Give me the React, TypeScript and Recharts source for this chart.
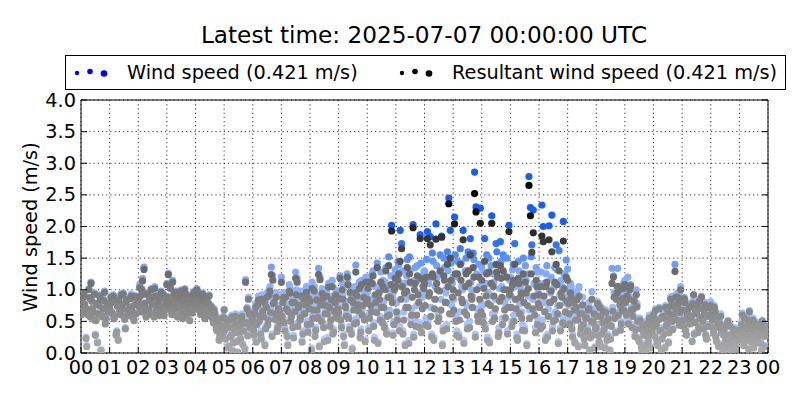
import React from 'react';
import { ScatterChart, Scatter, XAxis, YAxis, CartesianGrid } from 'recharts';

const titleText = 'Latest time: 2025-07-07 00:00:00 UTC';
const latestWindSpeed = 0.421;
const latestResultant = 0.421;
const hourTicks = [0,1,2,3,4,5,6,7,8,9,10,11,12,13,14,15,16,17,18,19,20,21,22,23,24];
const hourLabels = ['00','01','02','03','04','05','06','07','08','09','10','11','12','13','14','15','16','17','18','19','20','21','22','23','00'];
const speedTicks = [0, 0.5, 1, 1.5, 2, 2.5, 3, 3.5, 4];
const speedLabels = ['0.0','0.5','1.0','1.5','2.0','2.5','3.0','3.5','4.0'];
const samplesPerHour = 20;

// wind speed (m/s), one row per hour, samples on the 3-minute marks
const windSpeedByHour: number[][] = [
  [0.82,0.75,0.95,0.68,0.12,0.61,0.88,1.12,0.71,0.55,0.30,0.79,0.64,0.92,0.05,0.58,0.85,0.47,0.73,0.66],
  [0.72,0.90,0.63,0.55,0.81,0.35,0.22,0.68,0.94,0.77,0.58,0.40,0.85,0.62,0.71,0.93,0.66,0.52,0.79,0.88],
  [0.85,1.08,0.66,1.18,1.36,0.95,0.72,0.62,0.88,1.02,0.78,0.58,0.92,0.70,0.84,0.65,0.98,0.75,0.60,0.87],
  [1.10,1.26,0.82,0.68,1.15,0.95,0.78,0.60,0.88,0.72,1.00,0.55,0.84,0.66,0.93,0.76,0.52,0.87,0.70,0.98],
  [0.92,1.02,0.78,0.85,0.66,0.95,0.72,0.58,0.88,0.80,0.63,0.75,0.55,0.70,0.48,0.36,0.52,0.28,0.44,0.32],
  [0.69,0.25,0.45,0.12,0.55,0.30,0.05,0.40,0.62,0.20,0.48,0.35,0.58,0.15,0.50,1.16,0.72,0.88,0.42,0.65],
  [0.55,0.32,0.78,0.48,0.90,0.62,0.25,0.70,0.85,0.42,0.95,0.58,1.05,1.36,1.22,0.88,0.66,0.38,0.75,0.52],
  [1.20,0.85,0.52,0.95,0.30,0.72,1.02,0.62,0.45,0.88,1.28,1.18,0.78,0.58,0.98,0.35,0.68,0.82,0.50,0.92],
  [0.88,0.08,0.62,1.05,0.40,0.75,1.34,1.20,0.55,0.95,0.22,0.82,0.68,1.10,0.48,0.90,0.35,0.72,1.00,0.60],
  [0.70,1.22,0.45,0.92,0.15,0.80,1.25,0.60,1.05,0.35,0.88,0.52,1.39,0.98,0.72,0.28,1.15,0.82,0.58,1.20],
  [0.95,0.40,1.20,0.72,1.30,0.25,0.88,1.42,1.05,0.58,0.80,1.15,0.45,1.35,0.65,1.52,0.98,2.02,0.32,1.10],
  [1.25,0.60,1.40,1.94,1.73,0.35,1.10,0.85,1.48,0.20,1.30,0.70,2.03,1.15,0.50,1.38,0.95,1.87,0.40,1.20],
  [1.30,0.55,1.92,1.10,1.84,0.30,1.45,0.85,2.04,1.20,0.65,1.55,1.85,0.40,1.35,0.95,1.60,2.45,1.94,0.75],
  [1.20,2.15,0.60,1.45,0.30,1.65,1.05,1.94,0.80,1.50,0.45,1.30,1.81,1.00,1.58,2.86,2.31,0.70,1.40,2.29],
  [1.35,0.55,1.81,1.10,0.25,1.50,0.90,2.17,1.25,0.65,1.73,1.40,0.40,1.76,1.05,1.55,0.80,1.20,0.35,2.02],
  [1.20,0.50,1.40,1.73,0.85,0.25,1.30,1.05,0.65,1.50,0.40,1.15,0.90,2.79,2.30,1.71,2.26,0.70,1.35,0.55],
  [1.10,0.45,2.34,2.00,0.80,1.25,0.30,2.01,0.95,2.18,0.60,1.35,1.71,0.75,1.62,0.40,1.05,2.08,0.55,1.47],
  [1.33,0.75,1.10,0.45,0.95,0.20,0.85,0.60,1.05,0.35,0.70,0.50,0.15,0.62,0.40,0.80,0.28,0.97,0.55,0.10],
  [0.45,0.81,0.20,0.62,0.35,0.70,0.10,0.55,0.30,0.48,0.25,1.34,1.22,0.60,0.90,1.34,1.05,0.40,0.75,1.10],
  [1.15,0.65,1.20,0.90,1.08,0.45,0.75,0.30,1.00,0.55,0.20,0.42,0.05,0.35,0.15,0.50,0.28,0.60,0.10,0.38],
  [0.63,0.30,0.50,0.15,0.72,0.40,0.25,0.58,0.10,0.45,0.68,0.35,0.89,0.55,0.80,1.40,0.75,0.95,0.48,1.05],
  [0.70,0.45,0.84,0.30,0.62,0.55,0.78,0.20,0.92,0.50,0.66,0.35,0.85,0.58,0.72,0.40,0.80,0.25,0.60,0.75],
  [0.81,0.55,0.35,0.68,0.20,0.50,0.42,0.62,0.15,0.30,0.45,0.10,0.52,0.25,0.05,0.32,0.18,0.40,0.08,0.22],
  [0.39,0.25,0.63,0.15,0.45,0.30,0.55,0.67,0.20,0.40,0.10,0.50,0.35,0.28,0.45,0.18,0.52,0.32,0.12,0.42],
];

// wind speed (m/s), samples half-way between the 3-minute marks
const windSpeedMidByHour: number[][] = [
  [0.62,0.90,0.78,0.25,0.70,1.02,0.58,0.84,0.66,0.95,0.52,0.18,0.76,0.88,0.60,0.72,0.98,0.55,0.80,0.68],
  [0.80,0.65,0.92,0.58,0.30,0.75,0.86,0.62,0.70,0.95,0.54,0.82,0.68,0.60,0.88,0.74,0.57,0.91,0.63,0.78],
  [0.74,0.92,1.02,0.68,0.80,0.58,0.95,0.70,0.85,0.62,0.90,1.05,0.66,0.78,0.60,0.88,0.72,0.94,0.68,0.82],
  [0.90,0.75,1.04,0.62,0.85,0.70,0.98,0.58,0.80,0.92,0.66,0.76,1.02,0.60,0.88,0.72,0.82,0.64,0.94,0.78],
  [0.84,0.70,0.96,0.62,0.90,0.76,0.55,0.82,0.68,0.92,0.60,0.72,0.50,0.64,0.40,0.56,0.22,0.46,0.35,0.58],
  [0.38,0.55,0.10,0.42,0.28,0.60,0.18,0.50,0.35,0.02,0.45,0.25,0.62,0.38,0.08,0.52,0.30,0.66,0.48,0.58],
  [0.40,0.68,0.20,0.82,0.55,0.35,0.92,0.62,0.15,0.78,0.48,1.00,0.70,0.30,0.85,0.58,0.95,0.44,0.72,0.62],
  [0.65,0.95,0.40,0.78,0.15,1.08,0.55,0.88,0.28,0.72,1.00,0.48,0.82,0.62,0.20,0.92,0.70,1.05,0.38,0.76],
  [0.52,1.12,0.75,0.30,0.92,0.62,0.12,0.85,1.02,0.45,0.70,0.98,0.25,0.80,0.58,1.15,0.38,0.88,0.65,0.78],
  [0.95,0.58,1.10,0.30,0.82,0.65,1.18,0.42,0.92,0.08,0.75,1.05,0.55,0.85,1.12,0.38,0.68,0.98,0.22,0.88],
  [1.15,0.62,0.85,1.25,0.48,1.05,0.72,0.18,0.95,1.28,0.55,0.82,1.12,0.35,1.00,0.68,1.22,0.90,0.50,1.32],
  [0.80,1.45,0.42,1.05,1.30,0.65,0.15,1.22,0.92,1.52,0.55,1.10,0.30,1.35,0.75,1.15,0.48,1.42,0.88,1.28],
  [0.95,1.48,0.50,1.20,0.72,1.58,0.25,1.05,1.38,0.62,1.25,0.85,0.15,1.50,1.00,0.45,1.30,0.78,1.42,1.10],
  [0.85,1.55,0.35,1.20,0.65,1.42,1.00,0.20,1.30,0.75,1.60,0.50,1.12,0.90,1.48,0.30,1.25,0.62,1.05,0.80],
  [0.75,1.28,0.45,1.55,0.95,0.20,1.38,0.62,1.12,0.85,1.60,0.32,1.02,1.45,0.55,1.25,0.70,1.50,0.88,1.15],
  [0.90,1.32,0.60,1.05,0.30,1.45,0.78,1.18,0.45,0.98,1.38,0.15,1.25,0.68,1.52,0.85,1.10,0.40,1.28,0.95],
  [0.88,1.28,0.52,1.10,0.25,1.38,0.70,0.98,1.20,0.42,1.05,0.65,1.32,0.18,0.92,1.15,0.58,1.25,0.80,1.00],
  [0.92,0.55,1.05,0.30,0.80,0.62,0.98,0.12,0.72,0.45,0.88,0.25,0.65,0.38,0.78,0.05,0.58,0.32,0.70,0.42],
  [0.62,0.30,0.75,0.12,0.52,0.40,0.68,0.22,0.58,0.05,0.45,0.72,0.95,0.35,1.02,0.65,0.82,0.50,0.92,0.70],
  [0.85,0.95,0.50,1.05,0.72,0.62,0.88,0.40,0.78,0.25,0.55,0.12,0.45,0.30,0.02,0.38,0.20,0.48,0.32,0.55],
  [0.45,0.70,0.20,0.55,0.38,0.05,0.62,0.32,0.75,0.48,0.18,0.58,0.78,0.40,0.65,0.92,0.55,0.82,0.68,0.88],
  [0.55,0.88,0.38,0.65,0.72,0.48,0.60,0.82,0.32,0.68,0.78,0.42,0.58,0.90,0.52,0.65,0.30,0.74,0.45,0.62],
  [0.65,0.42,0.75,0.28,0.58,0.12,0.48,0.35,0.02,0.40,0.22,0.30,0.15,0.45,0.08,0.28,0.38,0.12,0.30,0.25],
  [0.28,0.48,0.35,0.58,0.22,0.40,0.08,0.46,0.30,0.55,0.25,0.38,0.18,0.48,0.32,0.05,0.40,0.28,0.45,0.35],
];

// resultant wind speed (m/s), on the 3-minute marks
const resultantByHour: number[][] = [
  [0.80,0.74,0.93,0.67,0.10,0.60,0.87,1.10,0.70,0.53,0.28,0.78,0.62,0.90,0.04,0.57,0.83,0.46,0.72,0.65],
  [0.71,0.88,0.62,0.54,0.80,0.33,0.20,0.66,0.91,0.76,0.57,0.38,0.84,0.60,0.70,0.90,0.65,0.51,0.77,0.86],
  [0.83,1.03,0.65,1.14,1.32,0.93,0.70,0.61,0.86,1.00,0.77,0.57,0.90,0.69,0.82,0.64,0.96,0.74,0.59,0.85],
  [1.08,1.24,0.80,0.67,1.12,0.93,0.77,0.59,0.86,0.71,0.98,0.54,0.82,0.65,0.91,0.75,0.51,0.85,0.69,0.96],
  [0.90,1.00,0.77,0.83,0.65,0.93,0.71,0.57,0.86,0.78,0.62,0.73,0.54,0.68,0.46,0.35,0.50,0.26,0.42,0.30],
  [0.68,0.22,0.43,0.10,0.52,0.28,0.03,0.38,0.58,0.18,0.46,0.33,0.55,0.13,0.47,1.12,0.70,0.85,0.40,0.62],
  [0.50,0.28,0.72,0.45,0.84,0.58,0.22,0.66,0.80,0.38,0.88,0.52,0.98,1.24,1.15,0.80,0.62,0.34,0.70,0.48],
  [1.12,0.80,0.48,0.88,0.26,0.65,0.95,0.57,0.40,0.80,1.18,1.12,0.72,0.52,0.90,0.30,0.62,0.76,0.45,0.86],
  [0.82,0.05,0.55,0.98,0.36,0.68,1.24,1.16,0.50,0.86,0.18,0.75,0.62,1.04,0.42,0.84,0.30,0.66,0.92,0.55],
  [0.64,1.18,0.40,0.85,0.12,0.72,1.20,0.55,0.96,0.30,0.80,0.46,1.28,0.90,0.66,0.24,1.08,0.75,0.52,1.12],
  [0.85,0.35,1.12,0.65,1.22,0.20,0.80,1.35,0.95,0.52,0.72,1.05,0.40,1.30,0.58,1.38,0.88,1.93,0.28,1.00],
  [1.05,0.52,1.25,1.45,1.65,0.30,0.95,0.72,1.35,0.15,1.12,0.60,1.98,1.00,0.42,1.22,0.80,1.81,0.32,1.05],
  [1.10,0.45,1.81,0.90,1.71,0.25,1.20,0.70,1.80,1.00,0.55,1.30,1.83,0.35,1.15,0.80,1.40,2.36,1.50,0.62],
  [1.00,2.04,0.50,1.25,0.25,1.40,0.85,1.79,0.65,1.25,0.38,1.10,1.55,0.85,1.35,2.52,2.23,0.58,1.20,2.05],
  [1.15,0.48,1.45,0.90,0.20,1.28,0.75,2.05,1.05,0.55,1.40,1.20,0.32,1.38,0.88,1.30,0.68,1.00,0.30,1.92],
  [1.00,0.42,1.15,1.40,0.70,0.20,1.10,0.88,0.55,1.25,0.35,0.95,0.75,2.65,2.17,1.59,1.90,0.60,1.15,0.45],
  [0.92,0.38,1.85,1.76,0.65,1.05,0.25,1.79,0.80,1.60,0.50,1.12,1.40,0.62,1.30,0.35,0.88,1.77,0.45,1.20],
  [1.15,0.62,0.95,0.38,0.80,0.16,0.72,0.52,0.90,0.30,0.62,0.45,0.12,0.55,0.35,0.70,0.24,0.85,0.48,0.08],
  [0.40,0.78,0.17,0.58,0.30,0.66,0.08,0.50,0.26,0.44,0.22,1.10,1.20,0.55,0.85,1.05,1.00,0.36,0.70,1.02],
  [1.08,0.60,1.05,0.85,1.06,0.40,0.70,0.26,0.92,0.50,0.18,0.38,0.04,0.32,0.12,0.46,0.25,0.55,0.08,0.35],
  [0.60,0.26,0.46,0.12,0.70,0.36,0.22,0.55,0.08,0.42,0.65,0.32,0.85,0.50,0.76,1.29,0.70,0.88,0.44,1.00],
  [0.68,0.42,0.80,0.28,0.60,0.52,0.74,0.18,0.92,0.48,0.62,0.32,0.82,0.55,0.70,0.38,0.76,0.22,0.58,0.72],
  [0.75,0.52,0.32,0.65,0.18,0.48,0.40,0.58,0.12,0.28,0.42,0.08,0.50,0.22,0.04,0.30,0.15,0.37,0.06,0.20],
  [0.36,0.22,0.60,0.12,0.42,0.28,0.52,0.65,0.18,0.38,0.08,0.47,0.32,0.25,0.42,0.15,0.50,0.30,0.10,0.40],
];

// resultant wind speed (m/s), half-way between the 3-minute marks
const resultantMidByHour: number[][] = [
  [0.61,0.88,0.77,0.23,0.69,1.00,0.57,0.82,0.65,0.93,0.51,0.16,0.75,0.86,0.59,0.70,0.96,0.54,0.78,0.67],
  [0.79,0.64,0.90,0.57,0.28,0.74,0.84,0.61,0.69,0.93,0.53,0.80,0.67,0.59,0.86,0.73,0.56,0.89,0.62,0.77],
  [0.73,0.90,1.00,0.67,0.78,0.57,0.93,0.69,0.83,0.61,0.88,1.02,0.65,0.76,0.59,0.86,0.71,0.92,0.67,0.80],
  [0.88,0.74,1.02,0.61,0.83,0.69,0.96,0.57,0.78,0.90,0.65,0.75,1.00,0.59,0.86,0.71,0.80,0.63,0.92,0.77],
  [0.82,0.69,0.94,0.61,0.88,0.74,0.54,0.80,0.67,0.90,0.59,0.70,0.48,0.62,0.38,0.54,0.20,0.44,0.33,0.56],
  [0.36,0.52,0.08,0.40,0.25,0.57,0.16,0.47,0.32,0.01,0.42,0.22,0.58,0.35,0.06,0.48,0.27,0.62,0.45,0.55],
  [0.36,0.62,0.17,0.76,0.50,0.30,0.85,0.57,0.12,0.72,0.44,0.92,0.64,0.26,0.78,0.53,0.88,0.40,0.66,0.57],
  [0.58,0.88,0.35,0.70,0.12,0.98,0.50,0.80,0.24,0.65,0.92,0.42,0.75,0.56,0.17,0.85,0.62,0.96,0.33,0.70],
  [0.46,1.02,0.68,0.26,0.84,0.56,0.10,0.76,0.94,0.40,0.62,0.90,0.20,0.72,0.52,1.05,0.33,0.80,0.58,0.70],
  [0.86,0.52,1.00,0.26,0.74,0.58,1.08,0.37,0.84,0.06,0.68,0.95,0.48,0.76,1.02,0.33,0.60,0.88,0.18,0.80],
  [1.02,0.55,0.75,1.10,0.42,0.92,0.64,0.15,0.85,1.12,0.48,0.72,1.00,0.30,0.88,0.60,1.08,0.80,0.45,1.18],
  [0.65,1.15,0.35,0.85,1.05,0.52,0.12,0.98,0.72,1.25,0.45,0.88,0.25,1.10,0.60,0.92,0.40,1.18,0.70,1.02],
  [0.75,1.20,0.42,0.95,0.58,1.25,0.20,0.85,1.10,0.50,0.98,0.68,0.12,1.22,0.80,0.38,1.05,0.62,1.15,0.88],
  [0.68,1.25,0.28,0.95,0.52,1.15,0.80,0.15,1.05,0.60,1.30,0.40,0.90,0.72,1.20,0.25,1.00,0.50,0.85,0.65],
  [0.60,1.02,0.38,1.25,0.78,0.16,1.10,0.50,0.90,0.70,1.28,0.26,0.82,1.18,0.45,1.00,0.56,1.20,0.72,0.92],
  [0.72,1.08,0.50,0.85,0.24,1.18,0.62,0.95,0.36,0.80,1.12,0.12,1.02,0.55,1.25,0.70,0.90,0.32,1.05,0.78],
  [0.72,1.05,0.42,0.90,0.20,1.12,0.58,0.80,0.98,0.35,0.85,0.52,1.08,0.15,0.75,0.95,0.48,1.02,0.65,0.82],
  [0.78,0.46,0.88,0.25,0.68,0.52,0.84,0.10,0.62,0.40,0.76,0.22,0.56,0.33,0.68,0.04,0.50,0.28,0.62,0.38],
  [0.58,0.27,0.72,0.10,0.48,0.37,0.64,0.20,0.54,0.04,0.42,0.66,0.88,0.32,0.95,0.60,0.76,0.46,0.86,0.66],
  [0.80,0.90,0.46,1.00,0.68,0.58,0.82,0.37,0.73,0.22,0.52,0.10,0.42,0.28,0.02,0.35,0.18,0.45,0.30,0.52],
  [0.42,0.67,0.18,0.52,0.35,0.04,0.58,0.30,0.72,0.45,0.16,0.55,0.74,0.37,0.62,0.88,0.52,0.78,0.64,0.85],
  [0.52,0.86,0.35,0.62,0.70,0.46,0.58,0.78,0.30,0.66,0.75,0.40,0.55,0.88,0.50,0.62,0.28,0.72,0.42,0.60],
  [0.62,0.40,0.72,0.25,0.55,0.10,0.46,0.32,0.02,0.38,0.20,0.28,0.13,0.42,0.06,0.26,0.35,0.10,0.28,0.22],
  [0.26,0.45,0.32,0.55,0.20,0.38,0.06,0.44,0.28,0.52,0.22,0.36,0.16,0.45,0.30,0.04,0.38,0.26,0.42,0.33],
];

type Pt = { t: number; v: number };
const toPoints = (onMarks: number[][], between: number[][]): Pt[] =>
  onMarks.flatMap((row, h) =>
    row.flatMap((v, i) => [
      { t: h + i / samplesPerHour, v },
      { t: h + (i + 0.5) / samplesPerHour, v: between[h][i] },
    ])
  );

const windData = toPoints(windSpeedByHour, windSpeedMidByHour);
const resultantData = toPoints(resultantByHour, resultantMidByHour);

const W = 800;
const H = 400;
const FONT = '"DejaVu Sans", sans-serif';
const BASE = 19.3;
const M = 4;
const TICK = 6;

const BLUE = [20, 95, 250];
const BLACK = [0, 0, 0];
const grayAlpha = (v: number) => Math.min(1, 0.33 + 0.2 * v + Math.max(0, v - 1.3) * 0.2);
const blueAlpha = (v: number) => Math.min(1, 0.28 + 0.2 * v + Math.max(0, v - 1.3) * 0.6);
const mix = (base: number[], a: number) =>
  `rgb(${base.map((c) => Math.round(255 + (c - 255) * a)).join(',')})`;

const makeShape = (base: number[], alphaFor: (v: number) => number) => (props: any) => {
  const { cx, cy, payload } = props;
  if (cx == null || cy == null) return <g />;
  return <circle cx={cx} cy={cy} r={3.6} fill={mix(base, alphaFor(payload.v))} />;
};

const BottomTick = (props: any) => {
  const { x, y, index } = props;
  return (
    <g>
      <line x1={x} x2={x} y1={y - M} y2={y - M - TICK} stroke="#000" />
      <text x={x} y={y + 17} textAnchor="middle" fontFamily={FONT} fontSize={BASE} fill="#000">
        {hourLabels[index]}
      </text>
    </g>
  );
};
const TopTick = (props: any) => {
  const { x, y } = props;
  return <line x1={x} x2={x} y1={y + M} y2={y + M + TICK} stroke="#000" />;
};
const LeftTick = (props: any) => {
  const { x, y, index } = props;
  return (
    <g>
      <line x1={x + M} x2={x + M + TICK} y1={y} y2={y} stroke="#000" />
      <text x={x - 1} y={y + 6.5} textAnchor="end" fontFamily={FONT} fontSize={BASE} fill="#000">
        {speedLabels[index]}
      </text>
    </g>
  );
};
const RightTick = (props: any) => {
  const { x, y } = props;
  return <line x1={x - M} x2={x - M - TICK} y1={y} y2={y} stroke="#000" />;
};

const LegendDots = ({ x, color }: { x: number; color: string }) => (
  <g>
    <circle cx={x} cy={73} r={2.2} fill={color} />
    <circle cx={x + 13} cy={71.5} r={2.8} fill={color} />
    <circle cx={x + 27} cy={73.5} r={3.3} fill={color} />
  </g>
);

export default function App() {
  return (
    <div style={{ position: 'absolute', left: 0, top: 0, width: W, height: H, background: '#fff' }}>
      <ScatterChart width={W} height={H} margin={{ top: 0, right: 0, bottom: 0, left: 0 }}>
        <XAxis
          xAxisId={0}
          type="number"
          dataKey="t"
          domain={[0, 24]}
          ticks={hourTicks}
          allowDataOverflow
          height={47}
          tickSize={0}
          tickMargin={M}
          tickLine={false}
          axisLine={{ stroke: '#000' }}
          tick={<BottomTick />}
          interval={0}
        />
        <XAxis
          xAxisId="top"
          orientation="top"
          type="number"
          domain={[0, 24]}
          ticks={hourTicks}
          allowDataOverflow
          height={100}
          tickSize={0}
          tickMargin={M}
          tickLine={false}
          axisLine={{ stroke: '#000' }}
          tick={<TopTick />}
          interval={0}
        />
        <YAxis
          yAxisId={0}
          type="number"
          dataKey="v"
          domain={[0, 4]}
          ticks={speedTicks}
          allowDataOverflow
          width={81}
          tickSize={0}
          tickMargin={M}
          tickLine={false}
          axisLine={{ stroke: '#000' }}
          tick={<LeftTick />}
          interval={0}
        />
        <YAxis
          yAxisId="right"
          orientation="right"
          type="number"
          domain={[0, 4]}
          ticks={speedTicks}
          allowDataOverflow
          width={32}
          tickSize={0}
          tickMargin={M}
          tickLine={false}
          axisLine={{ stroke: '#000' }}
          tick={<RightTick />}
          interval={0}
        />
        <Scatter data={windData} isAnimationActive={false} shape={makeShape(BLUE, blueAlpha)} />
        <Scatter data={resultantData} isAnimationActive={false} shape={makeShape(BLACK, grayAlpha)} />
        <CartesianGrid stroke="#000" strokeDasharray="1.2 3" strokeWidth={0.8} fill="none" />
      </ScatterChart>
      <svg width={W} height={H} style={{ position: 'absolute', left: 0, top: 0, pointerEvents: 'none' }}>
        <text x={424} y={43} textAnchor="middle" fontFamily={FONT} fontSize={23.2} fill="#000">
          {titleText}
        </text>
        <rect x={65.5} y={55.5} width={720} height={34} fill="#fff" stroke="#000" strokeWidth={1} />
        <LegendDots x={77} color="#0000ff" />
        <text x={127} y={79} fontFamily={FONT} fontSize={BASE} fill="#000">
          {`Wind speed (${latestWindSpeed} m/s)`}
        </text>
        <LegendDots x={402} color="#000000" />
        <text x={452} y={79} fontFamily={FONT} fontSize={BASE} fill="#000">
          {`Resultant wind speed (${latestResultant} m/s)`}
        </text>
        <text
          transform="translate(37,227) rotate(-90)"
          textAnchor="middle"
          fontFamily={FONT}
          fontSize={BASE}
          fill="#000"
        >
          Wind speed (m/s)
        </text>
      </svg>
    </div>
  );
}
